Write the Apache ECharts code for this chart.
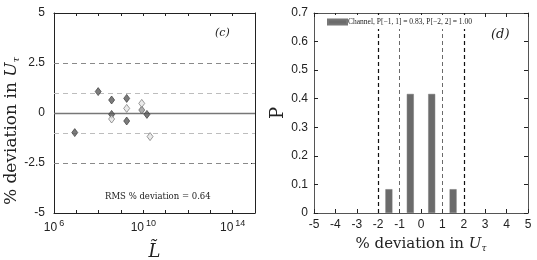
<!DOCTYPE html>
<html><head><meta charset="utf-8">
<script src="https://cdn.jsdelivr.net/npm/echarts@6/dist/echarts.min.js"></script>
<style>html,body{margin:0;padding:0;background:#fff}#c{width:537px;height:260px}</style>
</head><body><div id="c"></div>
<script>
// ---- data ----
const darkPoints = [[9.5e7,1.07],[3.8e8,0.65],[3.8e8,-0.07],[1.8e9,0.73],[1.8e9,-0.4],[1.45e10,-0.07],[8.5e6,-0.98]];
const midPoints = [[8.5e9,0.15]];
const lightPoints = [[3.8e8,-0.3],[1.8e9,0.23],[8.5e9,0.48],[2.0e10,-1.18]];
const leftRefOuter = [2.5,-2.5];
const leftRefInner = [1,-1];
const leftTickLabelExps = [6,10,14];
const histBins = [-1.5,-0.5,0.5,1.5];
const histP = [0.0833,0.4167,0.4167,0.0833];
const rightRefOuter = [-2,2];
const rightRefInner = [-1,1];
const legendText = 'Channel, P[\u22121, 1] = 0.83, P[\u22122, 2] = 1.00';
const rmsText = 'RMS % deviation = 0.64';
const devName = '% deviation in {i|U}{sub|\u03c4}';

const sans = 'Liberation Sans';
const serif = 'DejaVu Serif';
const chart = echarts.init(document.getElementById('c'));
const tick = {show:true, inside:true, length:4, lineStyle:{color:'#222'}};
const mirrorLabel = {show:false};
function uRich(fs){ return {
  i:{fontFamily:serif,fontStyle:'italic',fontSize:fs,color:'#222',fill:'#222'},
  sub:{fontFamily:serif,fontStyle:'italic',fontSize:Math.round(fs*0.6),color:'#222',fill:'#222',padding:[Math.round(fs*0.55),0,0,0]}
};}
const darkLine = {onZero:false, lineStyle:{color:'#222'}};
const grayLine = {onZero:false, lineStyle:{color:'#555'}};
const logBase = {type:'log', logBase:10, min:1e6, max:1e15, interval:1, gridIndex:0, splitLine:{show:false},
  axisLine:darkLine, axisTick:Object.assign({},tick,{length:3}), minorTick:{show:false}};

chart.setOption({
  animation:false,
  grid:[{left:54,right:282,top:13,bottom:47,outerBoundsMode:'none',containLabel:false},
        {left:314,right:9,top:13,bottom:47,outerBoundsMode:'none',containLabel:false}],
  xAxis:[
    Object.assign({}, logBase, {position:'bottom',
      name:'L\u0303', nameLocation:'middle', nameGap:30,
      nameTextStyle:{fontFamily:serif,fontStyle:'italic',fontSize:18,color:'#222'},
      axisLabel:{margin:6, showMinLabel:true, showMaxLabel:true, formatter:function(v){const e=Math.round(Math.log10(v)); return leftTickLabelExps.indexOf(e)>=0?'{b|10}{s|'+e+'}':'';},
        rich:{b:{fontFamily:sans,fontSize:12,color:'#222'},s:{fontFamily:sans,fontSize:9,color:'#222',padding:[0,0,8,2]}}}}),
    Object.assign({}, logBase, {position:'top', axisLabel:mirrorLabel}),
    {type:'value',gridIndex:1,min:-5,max:5,interval:1,position:'bottom',splitLine:{show:false},
      axisLine:grayLine,axisTick:tick,
      axisLabel:{fontFamily:sans,fontSize:12,color:'#222',margin:6},
      name:devName, nameLocation:'middle', nameGap:23,
      nameTextStyle:{fontFamily:serif,fontSize:15,color:'#222',rich:uRich(15)}},
    {type:'value',gridIndex:1,min:-5,max:5,interval:1,position:'top',splitLine:{show:false},
      axisLine:grayLine,axisTick:tick,axisLabel:mirrorLabel}
  ],
  yAxis:[
    {type:'value',gridIndex:0,min:-5,max:5,interval:2.5,position:'left',splitLine:{show:false},
      axisLine:darkLine,axisTick:tick,
      axisLabel:{fontFamily:sans,fontSize:12,color:'#222',margin:9}},
    {type:'value',gridIndex:0,min:-5,max:5,interval:2.5,position:'right',splitLine:{show:false},
      axisLine:darkLine,axisTick:tick,axisLabel:mirrorLabel},
    {type:'value',gridIndex:1,min:0,max:0.7,interval:0.1,position:'left',splitLine:{show:false},
      axisLine:grayLine,axisTick:tick,
      axisLabel:{fontFamily:sans,fontSize:12,color:'#222',margin:6},
      name:'P', nameLocation:'middle', nameGap:25, nameRotate:90,
      nameTextStyle:{fontFamily:serif,fontSize:18,color:'#222'}},
    {type:'value',gridIndex:1,min:0,max:0.7,interval:0.1,position:'right',splitLine:{show:false},
      axisLine:grayLine,axisTick:tick,axisLabel:mirrorLabel}
  ],
  legend:{show:true, z:20, data:['Channel'], left:325, top:15, itemWidth:19, itemHeight:5, padding:[3,4,3,2],
    backgroundColor:'#fff', formatter:function(){return legendText;}, icon:'rect',
    textStyle:{fontFamily:'Liberation Serif',fontSize:7.5,color:'#222',padding:[0,0,0,-4]}},
  series:[
    {type:'line', xAxisIndex:0, yAxisIndex:0, data:[], silent:true, markLine:{symbol:'none', silent:true, z:1, label:{show:false},
      data:[
        {yAxis:leftRefOuter[0], lineStyle:{color:'#8a8a8a',type:[5,4],width:1.2}},
        {yAxis:leftRefOuter[1], lineStyle:{color:'#8a8a8a',type:[5,4],width:1.2}},
        {yAxis:leftRefInner[0], lineStyle:{color:'#bdbdbd',type:[5,4],width:1.2}},
        {yAxis:leftRefInner[1], lineStyle:{color:'#bdbdbd',type:[5,4],width:1.2}},
        {yAxis:0, lineStyle:{color:'#777',type:'solid',width:1.3}}
      ]}},
    {type:'scatter', xAxisIndex:0, yAxisIndex:0, data:darkPoints, symbol:'diamond', symbolSize:[6,8],
      itemStyle:{color:'#5a5a5a', borderColor:'#333', borderWidth:0.8}},
    {type:'scatter', xAxisIndex:0, yAxisIndex:0, data:midPoints, symbol:'diamond', symbolSize:[6,8],
      itemStyle:{color:'#9a9a9a', borderColor:'#555', borderWidth:0.8}},
    {type:'scatter', xAxisIndex:0, yAxisIndex:0, data:lightPoints, symbol:'diamond', symbolSize:[6,8],
      itemStyle:{color:'#e6e6e6', borderColor:'#666', borderWidth:0.8}},
    {name:'Channel', type:'bar', xAxisIndex:2, yAxisIndex:2, barWidth:7,
      data:histBins.map((b,i)=>[b,histP[i]]), itemStyle:{color:'#6b6b6b', borderColor:'#777', borderWidth:0.5},
      markLine:{symbol:'none', silent:true, z:3, label:{show:false},
        data:[
          {xAxis:rightRefOuter[0], lineStyle:{color:'#111',type:[4,3],width:1.2}},
          {xAxis:rightRefOuter[1], lineStyle:{color:'#111',type:[4,3],width:1.2}},
          {xAxis:rightRefInner[0], lineStyle:{color:'#444',type:[4,3],width:0.8}},
          {xAxis:rightRefInner[1], lineStyle:{color:'#444',type:[4,3],width:0.8}}
        ]}}
  ],
  graphic:[
    {type:'text', x:12, y:131, rotation:Math.PI/2, z:10,
      style:{text:devName, rich:uRich(17), fontFamily:serif, fontSize:17, fill:'#222', align:'center', verticalAlign:'middle'}},
    {type:'text', left:215, top:28, style:{text:'(c)', fontFamily:serif, fontStyle:'italic', fontSize:11, fill:'#222'}},
    {type:'text', left:491, top:28, style:{text:'(d)', fontFamily:serif, fontStyle:'italic', fontSize:13, fill:'#222'}},
    {type:'text', left:105, top:192, style:{text:rmsText, fontFamily:serif, fontSize:8.5, fill:'#222'}}
  ]
});
</script></body></html>
